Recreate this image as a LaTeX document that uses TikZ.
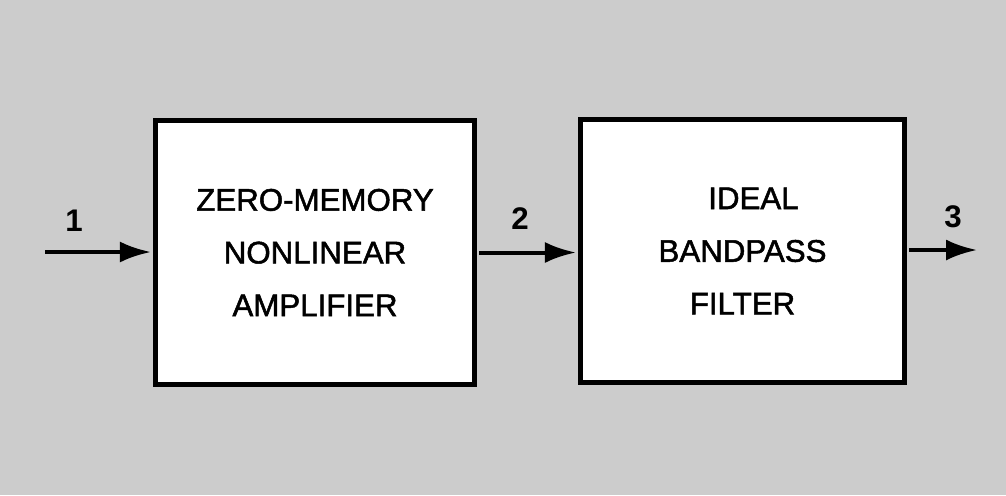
\documentclass[tikz,border=0pt]{standalone}
\usepackage{fontspec}
\usepackage{tikz}
\usetikzlibrary{arrows.meta}
\newfontfamily\blockfont[FakeBold=1.6]{Liberation Sans}
\newfontfamily\numfont{Liberation Sans Bold}
\definecolor{stipple}{gray}{0.80}

\begin{document}
\begin{tikzpicture}[x=0.02cm,y=-0.02cm,
	blockbox/.style={draw,line width=0.1cm,fill=white,align=center,
		font={\blockfont\fontsize{17.8pt}{30pt}\selectfont}},
	numlabel/.style={font={\numfont\fontsize{17.8pt}{17.8pt}\selectfont}},
	flow/.style={line width=0.08cm,-{Latex[length=0.62cm,width=0.42cm]}}]
	% Stippled gray page that fixes the bounding box.
	\fill[stipple] (0,0) rectangle (1006,495);
	\useasboundingbox (0,0) rectangle (1006,495);

	% The two blocks of the chain.
	\node[blockbox,minimum width=6.38cm,minimum height=5.28cm] (amp) at (315,252.5)
		{ZERO-MEMORY\\NONLINEAR\\AMPLIFIER};
	\node[blockbox,minimum width=6.48cm,minimum height=5.26cm] (filter) at (742.5,251)
		{\kern0.7em IDEAL\\BANDPASS\\FILTER};

	% Free ends of the input and output signals.
	\coordinate (in) at (45,252);
	\coordinate (out) at (977,250);

	% Signal flow.
	\draw[flow,shorten >=1.2pt] (in) -- (in -| amp.west);
	\draw[flow,shorten <=1.2pt,shorten >=1.2pt] (amp.east) -- (amp.east -| filter.west);
	\draw[flow,shorten <=1.2pt] (filter.east |- out) -- (out);

	% Numbered signal points.
	\node[numlabel] (n1) at (74,221) {1};
	\node[numlabel] (n2) at (520,219) {2};
	\node[numlabel] (n3) at (953,217) {3};
\end{tikzpicture}
\end{document}
